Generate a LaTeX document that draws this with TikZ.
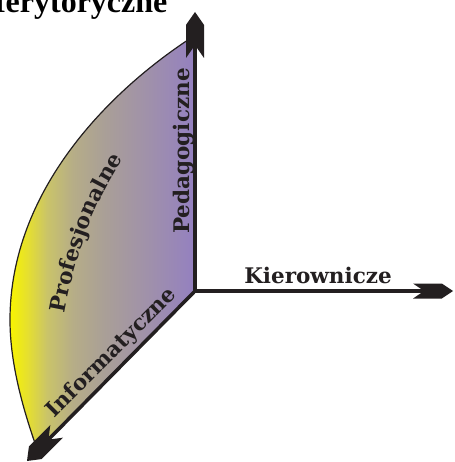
\documentclass[tikz,border=0pt]{standalone}
\usepackage{fontspec}
\setmainfont{Liberation Serif}
\newfontfamily\labfont{DejaVu Serif}
\usetikzlibrary{decorations.text}
\definecolor{ink}{RGB}{35,31,32}
\definecolor{yel}{RGB}{248,244,0}
\definecolor{ga}{RGB}{228,222,50}
\definecolor{gb}{RGB}{202,196,105}
\definecolor{gc}{RGB}{182,173,135}
\definecolor{gd}{RGB}{170,160,150}
\definecolor{ge}{RGB}{160,145,170}
\definecolor{pur}{RGB}{148,128,192}
\pgfdeclarehorizontalshading{sectorshade}{100bp}{color(0bp)=(yel); color(25bp)=(yel);
  color(30bp)=(ga); color(35bp)=(gb); color(42bp)=(gc); color(50bp)=(gd);
  color(62bp)=(ge); color(75bp)=(pur); color(100bp)=(pur)}
\tikzset{
  lab/.style={font=\labfont\bfseries\fontsize{21.5}{25}\selectfont, text=ink, inner sep=0pt},
  titlefont/.style={font=\bfseries\fontsize{32}{36}\selectfont, text=black, inner sep=0pt},
  axisline/.style={line width=4pt, draw=ink, line join=miter},
  diagline/.style={line width=3.5pt, draw=ink},
  rim/.style={line width=1.2pt, draw=ink},
  pics/chev/.style 2 args={code={
    \fill[ink] (0,0) -- ({-0.28*#1},{#2/2}) -- ({-#1},{#2/2}) -- ({-0.72*#1},0)
      -- ({-#1},{-#2/2}) -- ({-0.28*#1},{-#2/2}) -- cycle;}}
}
\begin{document}
\begin{tikzpicture}[x=1pt,y=-1pt]
\useasboundingbox (0,0) rectangle (454,462);
\clip (0,0) rectangle (454,462);
% named points
\coordinate (O) at (195,291);
\coordinate (top) at (195,12);
\coordinate (right) at (453,291);
\coordinate (dl) at (27,461);
\coordinate (rimtop) at (194,36);
\coordinate (rimleft) at (10,320);
\coordinate (rimend) at (37,449);
% shaded sector
\fill[shading=sectorshade]
  (rimtop) .. controls (110,90) and (10,190) .. (rimleft)
  .. controls (10,365) and (24,412) .. (rimend) -- (O) -- cycle;
\draw[rim] (rimtop) .. controls (110,90) and (10,190) .. (rimleft)
  .. controls (10,365) and (24,412) .. (rimend);
% axes
\draw[axisline] ([yshift=-30pt]top) -- (O) -- ([xshift=-25pt]right);
\draw[diagline] (O) -- ([xshift=20pt,yshift=20pt]dl);
\pic[rotate=90] at (top) {chev={46}{18}};
\pic at (right) {chev={40}{15}};
\pic[rotate=225] at (dl) {chev={42}{18}};
% labels
\node[titlefont, anchor=base west] (title) at (-24.7,12.5) {Merytoryczne};
\node[lab, rotate=90, anchor=base] (ped) at (189,151) {Pedagogiczne};
\node[lab, anchor=base] (kier) at (318,283) {Kierownicze};
\node[lab, rotate=45, anchor=base] (inf) at (116,357) {Informatyczne};
\path[decorate, decoration={text along path,
  text={|\labfont\bfseries\fontsize{21.5}{25}\selectfont|Profesjonalne},
  text color=ink, text align=center}]
  (63,324) .. controls (73,262) and (93,199) .. (130,150);
\end{tikzpicture}
\end{document}
